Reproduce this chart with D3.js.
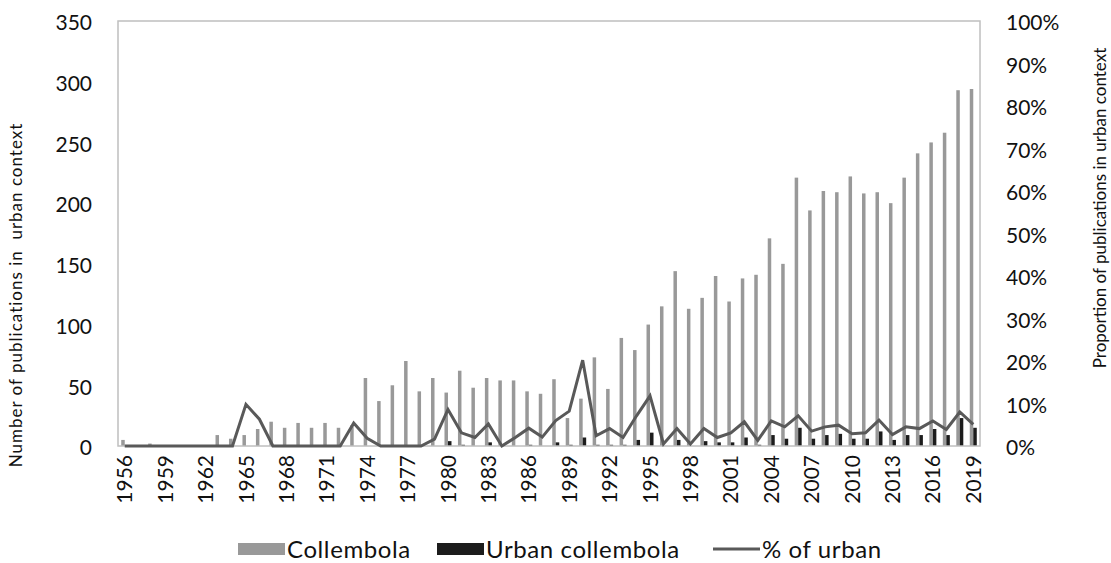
<!DOCTYPE html>
<html>
<head>
<meta charset="utf-8">
<script src="https://cdn.jsdelivr.net/npm/d3@7"></script>
<style>
  body { margin: 0; background: #fff; }
  svg { display: block; font-family: Lato, "Open Sans", sans-serif; }
</style>
</head>
<body>
<svg width="1111" height="563"></svg>
<script>
// jaren op de x-as
let years = [1956, 1957, 1958, 1959, 1960, 1961, 1962, 1963, 1964, 1965, 1966, 1967, 1968, 1969, 1970, 1971,
  1972, 1973, 1974, 1975, 1976, 1977, 1978, 1979, 1980, 1981, 1982, 1983, 1984, 1985, 1986, 1987,
  1988, 1989, 1990, 1991, 1992, 1993, 1994, 1995, 1996, 1997, 1998, 1999, 2000, 2001, 2002, 2003,
  2004, 2005, 2006, 2007, 2008, 2009, 2010, 2011, 2012, 2013, 2014, 2015, 2016, 2017, 2018, 2019];

let collembola = [5, 0, 2, 0, 0, 0, 0, 9, 6, 9, 14, 20, 15, 19, 15, 19,
  15, 17, 56, 37, 50, 70, 45, 56, 44, 62, 48, 56, 54, 54, 45, 43,
  55, 23, 39, 73, 47, 89, 79, 100, 115, 144, 113, 122, 140, 119, 138, 141,
  171, 150, 221, 194, 210, 209, 222, 208, 209, 200, 221, 241, 250, 258, 293, 294];

let urban = [0, 0, 0, 0, 0, 0, 0, 0, 0, 0, 0, 0, 0, 0, 0, 0,
  0, 0, 0, 0, 0, 0, 0, 0, 4, 1, 0, 3, 0, 0, 1, 0,
  3, 1, 7, 1, 1, 1, 5, 11, 0, 5, 0, 4, 3, 3, 7, 1,
  9, 6, 15, 6, 9, 10, 6, 6, 12, 5, 9, 9, 14, 9, 23, 15];

// percentage urban (rechter as)
let pctUrban = [0, 0, 0, 0, 0, 0, 0, 0, 0, 9.8, 6.3, 0, 0, 0, 0, 0,
  0, 5.4, 1.8, 0, 0, 0, 0, 1.6, 8.6, 3.1, 2.0, 5.2, 0, 2.0, 4.2, 2.1,
  6.0, 8.2, 20.2, 2.4, 4.1, 2.0, 7.1, 11.8, 0.5, 4.1, 0.5, 4.1, 2.0, 3.1, 5.7, 1.3,
  5.9, 4.5, 7.1, 3.5, 4.5, 4.9, 2.9, 3.1, 6.1, 2.7, 4.5, 4.1, 5.9, 3.9, 8.0, 5.1];

let leftTicks = [0, 50, 100, 150, 200, 250, 300, 350];
let rightTicks = [0, 10, 20, 30, 40, 50, 60, 70, 80, 90, 100];
let yearTicks = years.filter(function (d, i) { return i % 3 === 0; });

let series = ["Collembola", "Urban collembola"];

let svg = d3.select("svg"),
    plotLeft = 118, plotRight = 980, plotTop = 21, plotBottom = 446;

let data = years.map(function (yr, i) {
  return { year: yr, values: [collembola[i], urban[i]], pct: pctUrban[i] };
});

let x = d3.scaleBand()
    .domain(years)
    .range([plotLeft, plotRight])
    .paddingInner(0.48)
    .paddingOuter(0.24);

let x1 = d3.scaleBand()
    .domain(series)
    .range([0, x.bandwidth()]);

let y = d3.scaleLinear().domain([0, 350]).range([plotBottom, plotTop]);
let y2 = d3.scaleLinear().domain([0, 100]).range([plotBottom, plotTop]);

let z = d3.scaleOrdinal().domain(series).range(["#999999", "#1c1c1c"]);

// staven
svg.append("g")
  .selectAll("g")
  .data(data)
  .enter().append("g")
  .attr("transform", function (d) { return "translate(" + x(d.year) + ",0)"; })
  .selectAll("rect")
  .data(function (d) { return d.values.map(function (v, k) { return { key: series[k], value: v }; }); })
  .enter().append("rect")
  .attr("x", function (d) { return x1(d.key); })
  .attr("width", x1.bandwidth())
  .attr("y", function (d) { return y(d.value); })
  .attr("height", function (d) { return plotBottom - y(d.value); })
  .attr("fill", function (d) { return z(d.key); });

// kader om het plotgebied
svg.append("rect")
  .attr("x", plotLeft).attr("y", plotTop)
  .attr("width", plotRight - plotLeft).attr("height", plotBottom - plotTop)
  .attr("fill", "none")
  .attr("stroke", "#bfbfbf")
  .attr("stroke-width", 1.5);

// lijn met percentage
let line = d3.line()
  .x(function (d) { return x(d.year) + x.bandwidth() / 2; })
  .y(function (d) { return y2(d.pct); });

svg.append("path")
  .datum(data)
  .attr("fill", "none")
  .attr("stroke", "#595959")
  .attr("stroke-width", 3)
  .attr("stroke-linejoin", "miter")
  .attr("d", line);

// assen
let yAxis = svg.append("g")
  .attr("transform", "translate(" + plotLeft + ",0)")
  .call(d3.axisLeft(y).tickValues(leftTicks).tickSize(0).tickPadding(26));

let yAxis2 = svg.append("g")
  .attr("transform", "translate(" + plotRight + ",0)")
  .call(d3.axisRight(y2).tickValues(rightTicks).tickSize(0).tickPadding(26)
    .tickFormat(function (d) { return d + "%"; }));

let xAxis = svg.append("g")
  .attr("transform", "translate(0," + plotBottom + ")")
  .call(d3.axisBottom(x).tickValues(yearTicks).tickSize(0));

[yAxis, yAxis2, xAxis].forEach(function (a) {
  a.select(".domain").remove();
  a.selectAll("text").attr("font-size", 21).attr("fill", "#111").attr("font-family", "Lato, sans-serif");
});
yAxis.selectAll("text").attr("dy", "0.42em");
yAxis2.selectAll("text").attr("dy", "0.42em");

xAxis.selectAll("text")
  .attr("transform", "rotate(-90)")
  .attr("text-anchor", "end")
  .attr("x", -9)
  .attr("y", 0)
  .attr("dy", "0.36em");

// as-titels
svg.append("text")
  .attr("transform", "translate(22,295)rotate(-90)")
  .attr("text-anchor", "middle")
  .attr("font-size", 17)
  .attr("letter-spacing", 1)
  .attr("fill", "#111")
  .style("white-space", "pre")
  .text("Number of publications in  urban context");

svg.append("text")
  .attr("transform", "translate(1106,208)rotate(-90)")
  .attr("text-anchor", "middle")
  .attr("font-size", 17)
  .attr("fill", "#111")
  .text("Proportion of publications in urban context");

// legenda
let legend = svg.append("g").attr("font-size", 24).attr("letter-spacing", 0.6).attr("fill", "#111");

let legendItems = [
  { label: "Collembola", x: 238, type: "rect", color: z("Collembola") },
  { label: "Urban collembola", x: 437, type: "rect", color: z("Urban collembola") },
  { label: "% of urban", x: 713, type: "line", color: "#595959" }
];

legendItems.forEach(function (d) {
  if (d.type === "rect") {
    legend.append("rect")
      .attr("x", d.x).attr("y", 543)
      .attr("width", 47).attr("height", 12)
      .attr("fill", d.color);
  } else {
    legend.append("line")
      .attr("x1", d.x).attr("x2", d.x + 47)
      .attr("y1", 549).attr("y2", 549)
      .attr("stroke", d.color)
      .attr("stroke-width", 3);
  }
  legend.append("text")
    .attr("x", d.x + 49)
    .attr("y", 549)
    .attr("dy", "0.36em")
    .text(d.label);
});
</script>
</body>
</html>
